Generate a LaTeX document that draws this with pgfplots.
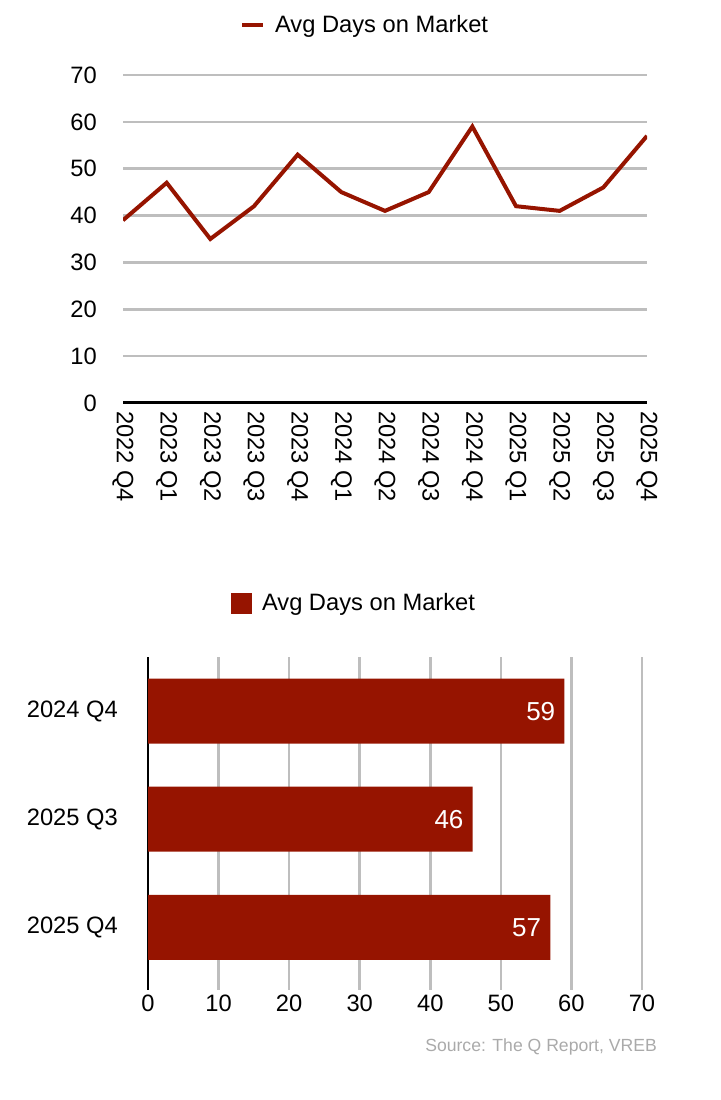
\documentclass[border=0pt]{standalone}
\usepackage{fontspec}
\setmainfont{Liberation Sans}
\usepackage{pgfplots}
\pgfplotsset{compat=1.18}
\definecolor{barred}{RGB}{150,20,0}
\definecolor{gridgray}{RGB}{190,190,190}
\definecolor{srcgray}{RGB}{170,170,170}
\pgfplotsset{every axis/.append style={font=\fontsize{23.7}{28}\selectfont},
  /pgf/number format/assume math mode=true}
\begin{document}
\begin{tikzpicture}
\useasboundingbox (0pt,0pt) rectangle (720pt,1100pt);
\begin{axis}[
  at={(123pt,697pt)}, anchor=south west,
  scale only axis, width=524pt, height=328pt,
  xmin=0, xmax=12, ymin=0, ymax=70,
  ytick={0,10,...,70},
  xtick={0,...,12},
  xticklabels={2022 Q4,2023 Q1,2023 Q2,2023 Q3,2023 Q4,2024 Q1,2024 Q2,2024 Q3,2024 Q4,2025 Q1,2025 Q2,2025 Q3,2025 Q4},
  xticklabel style={rotate=-90, anchor=west, inner ysep=0pt, inner xsep=8pt},
  yticklabel style={anchor=east, inner sep=0pt, xshift=-26pt},
  axis x line*=bottom, axis y line*=left,
  x axis line style={-, black, line width=3pt},
  y axis line style={draw=none},
  major tick length=0pt,
  ymajorgrids, grid style={gridgray, line width=2.5pt},
  legend style={draw=none, fill=none, at={(0.462,1.152)}, anchor=center},
  legend image code/.code={\draw[#1, line width=4pt] (0pt,0pt) -- (21pt,0pt); \path (29pt,0pt);},
]
\addplot[barred, line width=4pt] coordinates {
  (0,39) (1,47) (2,35) (3,42) (4,53) (5,45) (6,41) (7,45) (8,59) (9,42) (10,41) (11,46) (12,57)};
\addlegendentry{Avg Days on Market}
\end{axis}
\begin{axis}[
  at={(148pt,110pt)}, anchor=south west,
  scale only axis, width=494pt, height=333pt,
  xbar, bar width=65pt,
  xmin=0, xmax=70, ymin=-0.5, ymax=2.58, y dir=reverse,
  xtick={0,10,...,70},
  ytick={0,1,2},
  yticklabels={2024 Q4,2025 Q3,2025 Q4},
  yticklabel style={anchor=east, inner sep=0pt, xshift=-30pt},
  xticklabel style={anchor=north, inner sep=0pt, yshift=-5pt},
  axis x line*=bottom, axis y line*=left,
  x axis line style={draw=none},
  y axis line style={-, black, line width=2pt},
  major tick length=0pt,
  xmajorgrids, grid style={gridgray, line width=2.5pt},
  nodes near coords,
  nodes near coords style={anchor=east, text=white, inner sep=0pt, xshift=-9pt, font=\fontsize{26}{30}\selectfont},
  legend style={draw=none, fill=none, at={(0.417,1.162)}, anchor=center},
  legend image code/.code={\fill[barred] (0pt,-10.5pt) rectangle (21pt,10.5pt); \path (29pt,0pt);},
]
\addplot[fill=barred, draw=none, bar shift=0pt] coordinates {(59,0) (46,1) (57,2)};
\addlegendentry{Avg Days on Market}
\end{axis}
\node[anchor=east, text=srcgray, inner sep=0pt, font=\fontsize{17.6}{21}\selectfont] at (657pt,53pt) {Source: The Q Report, VREB};
\end{tikzpicture}
\end{document}
